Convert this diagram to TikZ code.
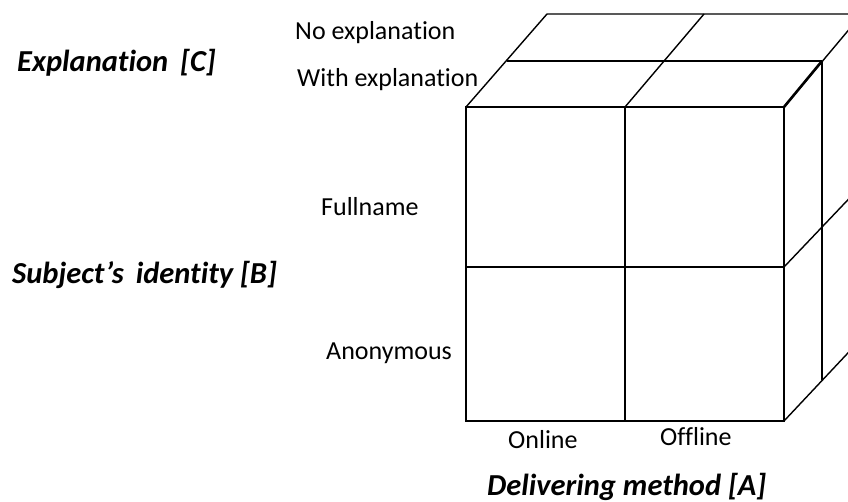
\documentclass[tikz,border=0pt]{standalone}
\usepackage{fontspec}
\setmainfont{Carlito}[Ligatures=NoCommon]
\begin{document}
\begin{tikzpicture}[x=1pt,y=-1pt,
  edge/.style={line width=1.4pt,line join=miter},
  thickedge/.style={line width=2.6pt},
  lbl/.style={font=\fontsize{26}{28}\selectfont,inner sep=0pt},
  axis/.style={font=\fontsize{30.5}{32}\selectfont\bfseries\itshape,inner sep=0pt}]
\useasboundingbox (0,0) rectangle (848,502);
\clip (0,0) rectangle (848,502);
% front face corners
\coordinate (f1) at (466,107); \coordinate (f2) at (625,107); \coordinate (f3) at (784,107);
\coordinate (m1) at (466,267); \coordinate (m3) at (784,267);
\coordinate (b1) at (466,421); \coordinate (b2) at (625,421); \coordinate (b3) at (784,421);
% top face
\coordinate (t1) at (507,61); \coordinate (t3) at (822,61);
\coordinate (k1) at (547,14); \coordinate (k2) at (704,14); \coordinate (k3) at (862,14);
% right face
\coordinate (r1) at (822,380);
\coordinate (rm) at (862,185); \coordinate (rb) at (862,338);
% front face
\draw[edge] (f1) rectangle (b3);
\draw[edge] (f2) -- (b2);
\draw[edge] (m1) -- (m3);
% top face
\draw[edge] (f1) -- (k1) -- (k3);
\draw[edge] (t1) -- (t3);
\draw[edge] (f2) -- (k2);
\draw[edge] (f3) -- (k3);
\draw[thickedge] (f3) -- (t3);
\draw[thickedge] (f3) -- (m3);
% right face
\draw[edge] (t3) -- (r1);
\draw[edge] (m3) -- (rm);
\draw[edge] (b3) -- (rb);
% labels
\node[lbl,anchor=west] (noexp) at (295,33) {No explanation};
\node[lbl,anchor=west] (withexp) at (297,80) {With explanation};
\node[axis,anchor=west] (axc) at (17,63) {Explanation\, [C]};
\node[lbl,anchor=west] (full) at (321,207) {Fullname};
\node[lbl,anchor=west] (anon) at (326,353) {Anonymous};
\node[axis,anchor=west] (axb) at (12,275) {Subject’s\, identity [B]};
\node[lbl,anchor=west] (onl) at (508,440) {Online};
\node[lbl,anchor=west] (offl) at (660,437) {Offline};
\node[axis,anchor=west] (axa) at (487,487) {Delivering method [A]};
\end{tikzpicture}
\end{document}
